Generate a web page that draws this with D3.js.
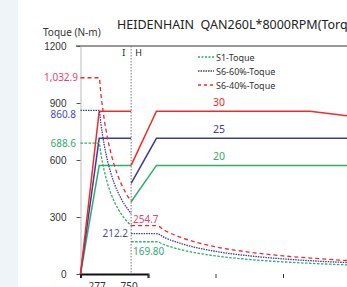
<!DOCTYPE html>
<html>
<head>
<meta charset="utf-8">
<script src="https://cdn.jsdelivr.net/npm/d3@7"></script>
<style>
  body { margin: 0; background: #fff; }
  svg { display: block; font-family: "Noto Sans", "Open Sans", sans-serif; }
</style>
</head>
<body>
<script>
const [width, height] = [347, 287];

// rpm values where torque / power were read
const s40Low = [[0, 1032.9], [277, 1032.9], [300, 955], [350, 818], [400, 716], [450, 637], [500, 573], [550, 521], [600, 477], [650, 441], [700, 409], [750, 382]];
const s40High = [[750, 254.7], [1125, 254.7], [1250, 229], [1500, 191], [1750, 164], [2000, 143], [2500, 115], [3000, 95.5], [3400, 84], [3900, 72], [4100, 68]];
const s60Low = [[0, 860.8], [277, 860.8], [300, 796], [350, 682], [400, 597], [450, 531], [500, 477], [600, 398], [700, 341], [750, 318]];
const s60High = [[750, 212.2], [1125, 212.2], [1250, 191], [1500, 159], [1750, 136], [2000, 119], [2500, 95.5], [3000, 79.6], [3500, 68], [4100, 58]];
const s1Low = [[0, 688.6], [277, 688.6], [300, 637], [350, 546], [400, 477], [450, 424], [500, 382], [600, 318], [700, 273], [750, 255]];
const s1High = [[750, 169.8], [1125, 169.8], [1250, 153], [1500, 127], [1750, 109], [2000, 95.5], [2500, 76.4], [3000, 63.7], [3500, 54.6], [4100, 46.6]];

// power (kW)
const p40Low = [[0, 0], [277, 30], [750, 30]];
const p40High = [[750, 20], [1125, 30], [3400, 30], [4100, 28.9]];
const p60Low = [[0, 0], [277, 25], [750, 25]];
const p60High = [[750, 16.7], [1125, 25], [4100, 25]];
const p1Low = [[0, 0], [277, 20], [750, 20]];
const p1High = [[750, 13.3], [1125, 20], [4100, 20]];

const yTicks = [0, 300, 600, 900, 1200];
const xTicks = [0, 1000, 2000, 3000, 4000];
const legendNames = ["S1-Toque", "S6-60%-Toque", "S6-40%-Toque"];
const powerLabels = [30, 25, 20];

const red = "#f02a2a", blue = "#3c3c96", green = "#2fae6a";

const x = d3.scaleLinear().domain([0, 1000]).range([80.5, 148]);
const y = d3.scaleLinear().domain([0, 1200]).range([274, 46]);
const yp = d3.scaleLinear().domain([0, 42]).range([274, 46]);

const svg = d3.select("body").append("svg")
    .attr("width", width)
    .attr("height", height);

svg.append("rect").attr("width", 18).attr("height", height).attr("fill", "#eff4f9");

svg.append("text")
    .attr("x", 117).attr("y", 29)
    .attr("font-size", 12.5).attr("fill", "#222")
    .attr("xml:space", "preserve")
    .text("HEIDENHAIN  QAN260L*8000RPM(Torque)");

svg.append("text")
    .attr("x", 43).attr("y", 36)
    .attr("font-size", 10).attr("fill", "#333")
    .text("Toque (N-m)");

// top border
svg.append("line")
    .attr("x1", 76).attr("x2", width).attr("y1", 46).attr("y2", 46)
    .attr("stroke", "#333").attr("stroke-width", 1);

// y axis
svg.append("g")
    .attr("transform", `translate(${x(0)},0)`)
    .call(d3.axisLeft(y).tickValues(yTicks).tickSize(4).tickPadding(10).tickFormat(d3.format("d")))
    .call(g => g.select(".domain").attr("stroke", "#bbb"))
    .call(g => g.selectAll(".tick line").attr("stroke", "#555"))
    .call(g => g.selectAll(".tick text").attr("font-size", 10).attr("fill", "#333").attr("font-family", null));

// x axis
svg.append("g")
    .attr("transform", `translate(0,${y(0)})`)
    .call(d3.axisBottom(x).tickValues(xTicks).tickSize(4).tickPadding(11).tickFormat(d3.format("d")))
    .call(g => g.select(".domain").attr("stroke", "#111").attr("stroke-width", 2))
    .call(g => g.selectAll(".tick line").attr("stroke", "#333"))
    .call(g => g.selectAll(".tick text").attr("font-size", 10).attr("fill", "#888").attr("font-family", null)
        .text(d => d === 0 ? "" : d));

svg.selectAll(".speedLabel")
    .data([277, 750])
    .join("text")
    .attr("x", d => x(d) - 2).attr("y", 290)
    .attr("text-anchor", "middle")
    .attr("font-size", 10).attr("fill", "#333")
    .text(d => d);

// winding switch line
svg.append("line")
    .attr("x1", x(750)).attr("x2", x(750)).attr("y1", 46).attr("y2", y(0))
    .attr("stroke", "#777").attr("stroke-dasharray", "1.5,1.5");

svg.append("text").attr("x", x(750) - 9).attr("y", 56).attr("font-size", 9).attr("fill", "#222").text("I");
svg.append("text").attr("x", x(750) + 4).attr("y", 56).attr("font-size", 9).attr("fill", "#222").text("H");

const torqueLine = d3.line().x(d => x(d[0])).y(d => y(d[1])).curve(d3.curveMonotoneX);
const powerLine = d3.line().x(d => x(d[0])).y(d => yp(d[1]));

const plot = svg.append("g").attr("fill", "none");

const solid = [[p1Low, green], [p1High, green], [p60Low, blue], [p60High, blue], [p40Low, red], [p40High, red]];
plot.selectAll(".power")
    .data(solid)
    .join("path")
    .attr("d", d => powerLine(d[0]))
    .attr("stroke", d => d[1])
    .attr("stroke-width", 1.5);

const dashed = [
    [s1Low, green, "2.5,1.5"], [s1High, green, "2.5,1.5"],
    [s60Low, blue, "1.5,1"], [s60High, blue, "1.5,1"],
    [s40Low, red, "4,3"], [s40High, red, "4,3"]
];
plot.selectAll(".torque")
    .data(dashed)
    .join("path")
    .attr("d", d => torqueLine(d[0]))
    .attr("stroke", d => d[1])
    .attr("stroke-width", 1.3)
    .attr("stroke-dasharray", d => d[2]);

// value labels
const valueLabels = [
    { t: "1,032.9", x: 78, y: y(1032.9) + 3.5, c: "#e8436a", a: "end" },
    { t: "860.8", x: 76, y: y(860.8) + 8, c: "#4a4aa5", a: "end" },
    { t: "688.6", x: 76, y: y(688.6) + 3.5, c: "#35a874", a: "end" },
    { t: "254.7", x: 133, y: y(254.7) - 3, c: "#e8436a", a: "start" },
    { t: "212.2", x: 128, y: y(212.2) + 3.5, c: "#4a4aa5", a: "end" },
    { t: "169.80", x: 133, y: y(169.8) + 13, c: "#35a874", a: "start" }
];
svg.selectAll(".valueLabel")
    .data(valueLabels)
    .join("text")
    .attr("x", d => d.x).attr("y", d => d.y)
    .attr("text-anchor", d => d.a)
    .attr("font-size", 10).attr("fill", d => d.c)
    .text(d => d.t);

// power labels
svg.selectAll(".powerLabel")
    .data(powerLabels)
    .join("text")
    .attr("x", 219).attr("y", d => yp(d) - 5)
    .attr("text-anchor", "middle")
    .attr("font-size", 10.5)
    .attr("fill", (d, i) => [red, blue, green][i])
    .text(d => d);

// legend
const legend = svg.append("g").attr("transform", "translate(198,57)");
const legendStyle = [[green, "2,1.5"], [blue, "1.5,1"], [red, "3,3"]];
legendNames.forEach((name, i) => {
    const row = legend.append("g").attr("transform", `translate(0,${i * 14})`);
    row.append("line")
        .attr("x1", 0).attr("x2", 16)
        .attr("stroke", legendStyle[i][0]).attr("stroke-width", 1.3)
        .attr("stroke-dasharray", legendStyle[i][1]);
    row.append("text")
        .attr("x", 18).attr("y", 3.5)
        .attr("font-size", 9).attr("fill", "#333")
        .text(name);
});
</script>
</body>
</html>
